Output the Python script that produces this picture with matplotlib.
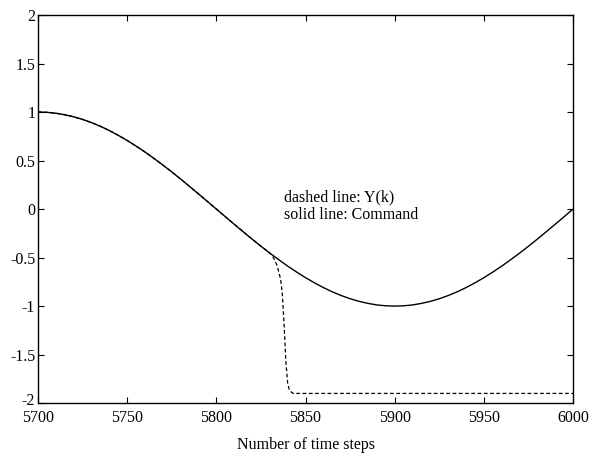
import matplotlib
matplotlib.use("Agg")
import matplotlib.pyplot as plt
import matplotlib.transforms as mtransforms

# -----------------------------
# Data
# -----------------------------
# command signal, sampled every 5 time steps from 5700 to 6000
steps = list(range(5700, 6001, 5))
command = [
    1.000, 0.997, 0.988, 0.972, 0.951, 0.924, 0.891, 0.853, 0.809, 0.760,
    0.707, 0.649, 0.588, 0.522, 0.454, 0.383, 0.309, 0.233, 0.156, 0.078,
    0.000, -0.078, -0.156, -0.233, -0.309, -0.383, -0.454, -0.522, -0.588, -0.649,
    -0.707, -0.760, -0.809, -0.853, -0.891, -0.924, -0.951, -0.972, -0.988, -0.997,
    -1.000, -0.997, -0.988, -0.972, -0.951, -0.924, -0.891, -0.853, -0.809, -0.760,
    -0.707, -0.649, -0.588, -0.522, -0.454, -0.383, -0.309, -0.233, -0.156, -0.078,
    0.000,
]

# output Y(k): tracks the command, then drops away after ~5831
fail_steps = [5832, 5834, 5836, 5837, 5838, 5839, 5840, 5841, 5843, 6000]
fail_values = [-0.50, -0.58, -0.72, -0.88, -1.20, -1.58, -1.80, -1.87, -1.90, -1.90]

x_ticks = [5700, 5750, 5800, 5850, 5900, 5950, 6000]
y_ticks = [-2, -1.5, -1, -0.5, 0, 0.5, 1, 1.5, 2]
y_tick_labels = ["-2", "-1.5", "-1", "-0.5", "0", "0.5", "1", "1.5", "2"]

# -----------------------------
# Build output series
# -----------------------------
track_steps = [k for k in steps if k <= 5830]
track_values = command[:len(track_steps)]
y_steps = track_steps + fail_steps
y_values = track_values + fail_values

# -----------------------------
# Plot
# -----------------------------
plt.rcParams["font.family"] = ["Liberation Serif", "DejaVu Serif"]
plt.rcParams["font.size"] = 11.5

fig, ax = plt.subplots(figsize=(5.89, 4.55), dpi=100)
fig.subplots_adjust(left=0.0645, right=0.973, top=0.967, bottom=0.114)

ax.plot(steps, command, color="black", linewidth=1.0)
ax.plot(y_steps, y_values, color="black", linewidth=0.9, linestyle=(0, (3, 2)))

ax.text(5838, 0.12, "dashed line: Y(k)", fontsize=11.5, va="center")
ax.text(5838, -0.06, "solid line: Command", fontsize=11.5, va="center")

ax.set_xlim(5700, 6000)
ax.set_ylim(-2, 2)
ax.set_xticks(x_ticks)
ax.set_yticks(y_ticks)
ax.set_yticklabels(y_tick_labels)
ax.tick_params(direction="in", top=True, right=True, length=4, width=0.8)
ax.tick_params(axis="y", pad=2)
ax.tick_params(axis="x", pad=5)
for s in ax.spines.values():
    s.set_linewidth(1.0)

# nudge the bottom "-2" label up a little so it clears "5700"
lbl = ax.get_yticklabels()[0]
lbl.set_transform(lbl.get_transform() + mtransforms.ScaledTranslation(0, 3 / 72, fig.dpi_scale_trans))

ax.set_xlabel("Number of time steps", labelpad=8)

fig.savefig("out.png", dpi=100)
